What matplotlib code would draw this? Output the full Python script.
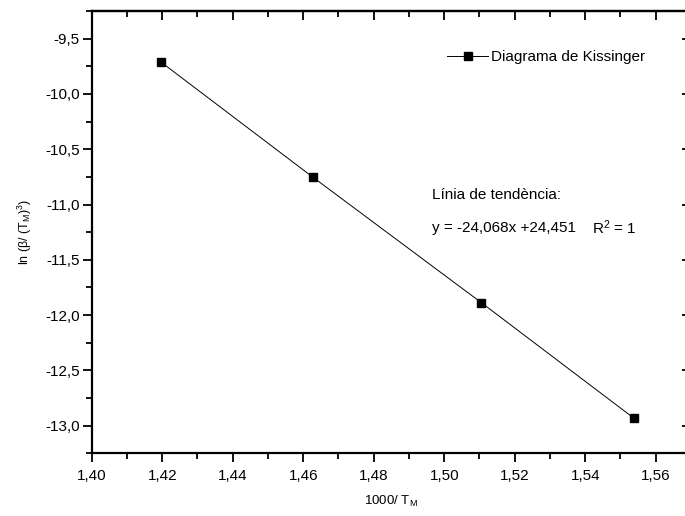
import matplotlib
matplotlib.use("Agg")
import matplotlib.pyplot as plt
from matplotlib.ticker import MultipleLocator, FuncFormatter

plt.rcParams['font.family'] = ['Liberation Sans', 'DejaVu Sans']
plt.rcParams['mathtext.fontset'] = 'custom'
plt.rcParams['mathtext.rm'] = 'Liberation Sans'
plt.rcParams['mathtext.it'] = 'Liberation Sans'

# Data
inv_T = [1.4197, 1.4627, 1.5105, 1.5537]
ln_beta = [-9.713, -10.752, -11.887, -12.930]
series_label = "Diagrama de Kissinger"
trend_title = "Línia de tendència:"
trend_eq = "y = -24,068x +24,451"
trend_r2 = "R$^2$ = 1"

fig = plt.figure(figsize=(6.85, 5.16), dpi=100)
ax = fig.add_axes([91.7/685, 62.7/516, (691-91.7)/685, (505-62.7)/516])

ax.plot(inv_T, ln_beta, color='black', lw=0.7, marker='s', ms=6,
        mfc='black', mec='black', label=series_label)

ax.set_xlim(1.40, 1.57)
ax.set_ylim(-13.25, -9.25)

ax.xaxis.set_major_locator(MultipleLocator(0.02))
ax.xaxis.set_minor_locator(MultipleLocator(0.01))
ax.yaxis.set_major_locator(MultipleLocator(0.5))
ax.yaxis.set_minor_locator(MultipleLocator(0.25))
ax.xaxis.set_major_formatter(FuncFormatter(lambda v, p: f"{v:.2f}".replace('.', ',')))
ax.yaxis.set_major_formatter(FuncFormatter(lambda v, p: f"{v:.1f}".replace('.', ',')))

for s in ax.spines.values():
    s.set_linewidth(1.6)

ax.tick_params(which='both', direction='out', top=False, right=False,
               width=1.3, labelsize=11)
ax.tick_params(which='major', length=6.5)
ax.tick_params(which='minor', length=4)
ax.tick_params(axis='x', pad=5)
ax.tick_params(axis='y', pad=2)

secx = ax.secondary_xaxis('top')
secx.xaxis.set_major_locator(MultipleLocator(0.02))
secx.xaxis.set_minor_locator(MultipleLocator(0.01))
secx.tick_params(which='both', direction='in', labeltop=False, width=1.3)
secx.tick_params(which='major', length=6.5)
secx.tick_params(which='minor', length=4)
secx.spines['top'].set_linewidth(1.6)

secy = ax.secondary_yaxis('right')
secy.yaxis.set_major_locator(MultipleLocator(0.5))
secy.yaxis.set_minor_locator(MultipleLocator(0.25))
secy.tick_params(which='both', direction='in', labelright=False, width=1.3)
secy.tick_params(which='major', length=6.5)
secy.tick_params(which='minor', length=4)
secy.spines['right'].set_linewidth(1.6)

ax.set_xlabel("1000/ T$_\\mathregular{M}$", fontsize=9.5, labelpad=8)
ax.set_ylabel("ln (β/ (T$_\\mathregular{M}$)$^3$)", fontsize=9, labelpad=8)

leg = ax.legend(loc='upper left', bbox_to_anchor=((447-91.7)/(691-91.7), 1 - (50-11)/(505-62.7)),
                frameon=False, fontsize=11, handlelength=2.7, handletextpad=0.2,
                borderaxespad=0, borderpad=0)

ax.text(431.7/685, 1 - 195/516, trend_title, transform=fig.transFigure,
        fontsize=11, va='center', ha='left')
ax.text(431.7/685, 1 - 228/516, trend_eq, transform=fig.transFigure,
        fontsize=11, va='center', ha='left')
ax.text(591.7/685, 1 - 228/516, trend_r2, transform=fig.transFigure,
        fontsize=11, va='center', ha='left')

fig.savefig("out.png", dpi=100)
